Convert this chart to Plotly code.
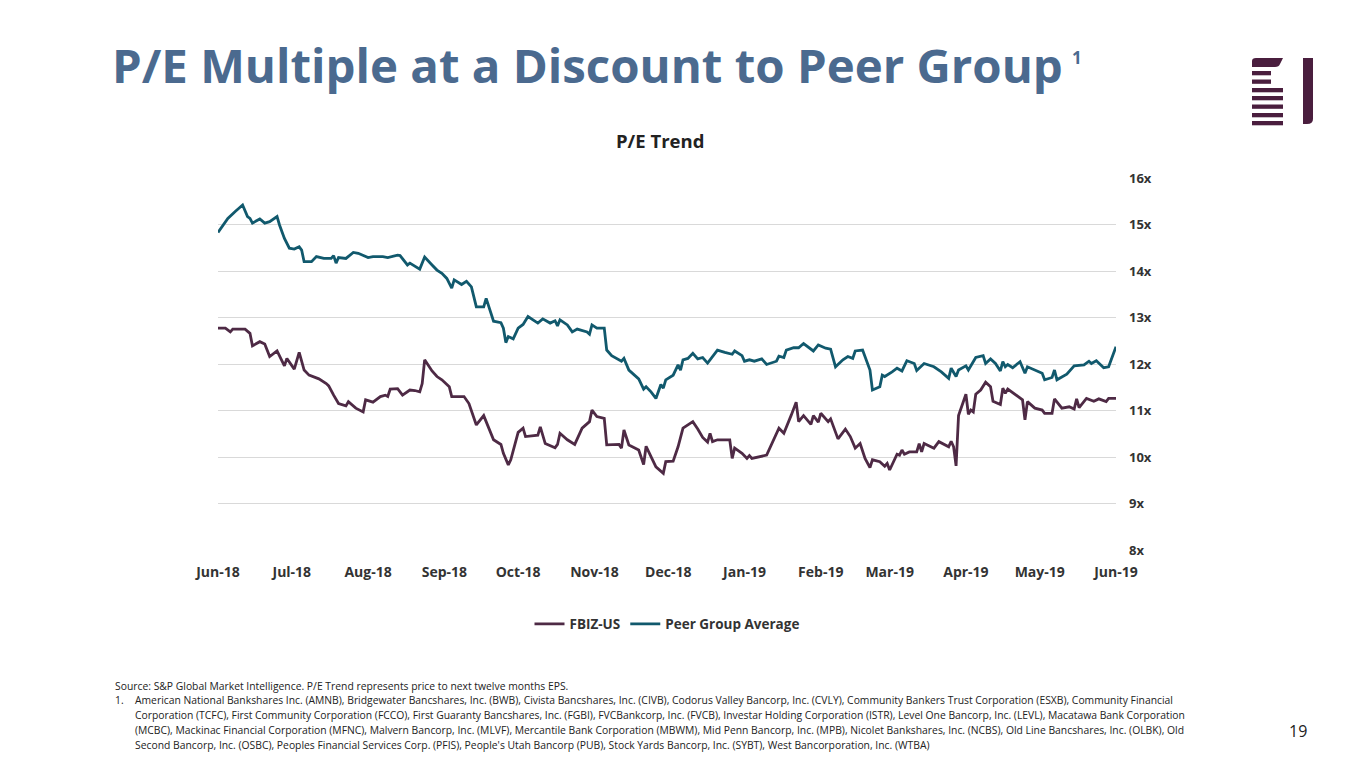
import plotly.graph_objects as go

# ---------------- data ----------------
peer_dates = [
 "2018-06-01","2018-06-05","2018-06-08","2018-06-11","2018-06-13","2018-06-14","2018-06-15","2018-06-18","2018-06-20","2018-06-22",
 "2018-06-25","2018-06-26","2018-06-28","2018-06-30","2018-07-02","2018-07-04","2018-07-05","2018-07-06","2018-07-09","2018-07-11",
 "2018-07-14","2018-07-17","2018-07-18","2018-07-19","2018-07-20","2018-07-23","2018-07-26","2018-07-28","2018-08-01","2018-08-03",
 "2018-08-07","2018-08-09","2018-08-13","2018-08-14","2018-08-17","2018-08-18","2018-08-22","2018-08-24","2018-08-27","2018-08-29",
 "2018-08-31","2018-09-02","2018-09-04","2018-09-05","2018-09-08","2018-09-10","2018-09-12","2018-09-14","2018-09-17","2018-09-18",
 "2018-09-21","2018-09-24","2018-09-25","2018-09-26","2018-09-27","2018-09-29","2018-10-01","2018-10-03","2018-10-05","2018-10-09",
 "2018-10-11","2018-10-14","2018-10-16","2018-10-17","2018-10-18","2018-10-21","2018-10-23","2018-10-25","2018-10-29","2018-10-30",
 "2018-10-31","2018-11-02","2018-11-05","2018-11-06","2018-11-08","2018-11-12","2018-11-13","2018-11-15","2018-11-19","2018-11-21",
 "2018-11-22","2018-11-24","2018-11-26","2018-11-28","2018-11-29","2018-11-30","2018-12-03","2018-12-05","2018-12-06","2018-12-07",
 "2018-12-09","2018-12-11","2018-12-13","2018-12-15","2018-12-17","2018-12-21","2018-12-24","2018-12-27","2018-12-28","2018-12-31",
 "2019-01-01","2019-01-03","2019-01-05","2019-01-08","2019-01-10","2019-01-14","2019-01-15","2019-01-17","2019-01-18","2019-01-21",
 "2019-01-23","2019-01-25","2019-01-29","2019-01-31","2019-02-03","2019-02-05","2019-02-07","2019-02-10","2019-02-12","2019-02-14",
 "2019-02-15","2019-02-18","2019-02-21","2019-02-22","2019-02-25","2019-02-26","2019-02-27","2019-02-28","2019-03-02","2019-03-04",
 "2019-03-06","2019-03-08","2019-03-11","2019-03-12","2019-03-15","2019-03-19","2019-03-22","2019-03-25","2019-03-26","2019-03-28",
 "2019-03-29","2019-04-01","2019-04-02","2019-04-05","2019-04-08","2019-04-09","2019-04-11","2019-04-13","2019-04-15","2019-04-16",
 "2019-04-17","2019-04-18","2019-04-20","2019-04-23","2019-04-25","2019-04-26","2019-04-29","2019-05-02","2019-05-03","2019-05-06",
 "2019-05-07","2019-05-08","2019-05-12","2019-05-15","2019-05-19","2019-05-21","2019-05-22","2019-05-24","2019-05-27","2019-05-29",
 "2019-06-01"]
peer_pe = [
 14.83,15.13,15.28,15.42,15.17,15.13,15.03,15.12,15.03,15.06,
 15.17,14.99,14.70,14.49,14.47,14.52,14.45,14.20,14.20,14.31,
 14.27,14.27,14.33,14.17,14.29,14.27,14.40,14.38,14.29,14.31,
 14.31,14.29,14.34,14.33,14.13,14.17,14.04,14.30,14.13,14.02,
 13.95,13.84,13.63,13.81,13.71,13.78,13.66,13.23,13.23,13.41,
 12.92,12.89,12.77,12.46,12.59,12.54,12.77,12.85,13.02,12.88,
 12.97,12.88,12.93,12.82,12.95,12.84,12.69,12.75,12.69,12.64,
 12.84,12.77,12.77,12.30,12.18,12.06,12.12,11.87,11.68,11.46,
 11.51,11.40,11.26,11.56,11.48,11.66,11.76,11.98,11.87,12.09,
 12.12,12.23,12.11,12.14,12.02,12.30,12.25,12.21,12.28,12.18,
 12.06,12.09,12.06,12.11,11.99,12.06,12.17,12.14,12.30,12.35,
 12.35,12.44,12.28,12.41,12.34,12.32,11.94,12.09,12.16,12.12,
 12.28,12.30,11.87,11.44,11.51,11.76,11.73,11.76,11.83,11.91,
 11.85,12.07,12.01,11.86,12.01,11.94,11.83,11.69,11.91,11.73,
 11.87,11.96,11.87,12.14,12.18,12.01,12.11,12.01,11.85,12.05,
 11.94,11.99,11.92,12.05,11.80,11.94,11.87,11.80,11.66,11.71,
 11.87,11.66,11.78,11.96,11.98,12.06,12.01,12.07,11.92,11.94,
 12.37]

fbiz_dates = [
 "2018-06-01","2018-06-04","2018-06-06","2018-06-07","2018-06-12","2018-06-14","2018-06-15","2018-06-18","2018-06-20","2018-06-22",
 "2018-06-25","2018-06-28","2018-06-29","2018-07-02","2018-07-04","2018-07-06","2018-07-08","2018-07-12","2018-07-15","2018-07-16",
 "2018-07-18","2018-07-20","2018-07-23","2018-07-24","2018-07-27","2018-07-30","2018-07-31","2018-08-03","2018-08-06","2018-08-08",
 "2018-08-09","2018-08-10","2018-08-13","2018-08-15","2018-08-18","2018-08-20","2018-08-22","2018-08-23","2018-08-24","2018-08-27",
 "2018-08-29","2018-08-31","2018-09-03","2018-09-04","2018-09-09","2018-09-11","2018-09-14","2018-09-17","2018-09-21","2018-09-24",
 "2018-09-25","2018-09-27","2018-09-28","2018-10-01","2018-10-03","2018-10-04","2018-10-09","2018-10-10","2018-10-12","2018-10-16",
 "2018-10-17","2018-10-18","2018-10-21","2018-10-24","2018-10-27","2018-10-30","2018-10-31","2018-11-02","2018-11-05","2018-11-06",
 "2018-11-11","2018-11-12","2018-11-13","2018-11-15","2018-11-19","2018-11-21","2018-11-22","2018-11-24","2018-11-26","2018-11-29",
 "2018-11-30","2018-12-03","2018-12-05","2018-12-07","2018-12-09","2018-12-11","2018-12-13","2018-12-15","2018-12-17","2018-12-18",
 "2018-12-19","2018-12-21","2018-12-26","2018-12-27","2018-12-28","2018-12-31","2019-01-02","2019-01-03","2019-01-04","2019-01-10",
 "2019-01-15","2019-01-17","2019-01-20","2019-01-22","2019-01-23","2019-01-25","2019-01-28","2019-01-29","2019-01-31","2019-02-01",
 "2019-02-04","2019-02-05","2019-02-08","2019-02-11","2019-02-13","2019-02-15","2019-02-17","2019-02-19","2019-02-21","2019-02-22",
 "2019-02-25","2019-02-27","2019-02-28","2019-03-01","2019-03-04","2019-03-05","2019-03-06","2019-03-07","2019-03-09","2019-03-12",
 "2019-03-13","2019-03-14","2019-03-15","2019-03-19","2019-03-21","2019-03-25","2019-03-26","2019-03-27","2019-03-28","2019-03-29",
 "2019-04-01","2019-04-02","2019-04-03","2019-04-04","2019-04-05","2019-04-07","2019-04-09","2019-04-11","2019-04-12","2019-04-15",
 "2019-04-16","2019-04-17","2019-04-18","2019-04-21","2019-04-24","2019-04-25","2019-04-26","2019-04-29","2019-05-02","2019-05-03",
 "2019-05-06","2019-05-07","2019-05-10","2019-05-13","2019-05-15","2019-05-16","2019-05-17","2019-05-20","2019-05-23","2019-05-25",
 "2019-05-28","2019-05-29","2019-06-01"]
fbiz_pe = [
 12.77,12.77,12.69,12.75,12.75,12.66,12.39,12.48,12.43,12.16,
 12.28,11.96,12.12,11.89,12.25,11.87,11.76,11.68,11.58,11.53,
 11.33,11.15,11.10,11.19,11.05,10.97,11.23,11.18,11.30,11.33,
 11.30,11.46,11.47,11.33,11.44,11.43,11.40,11.58,12.09,11.85,
 11.73,11.66,11.51,11.30,11.30,11.15,10.69,10.89,10.37,10.27,
 10.08,9.83,9.94,10.53,10.62,10.44,10.47,10.65,10.29,10.20,
 10.27,10.51,10.37,10.27,10.62,10.76,11.01,10.87,10.83,10.26,
 10.27,10.19,10.58,10.26,10.15,9.84,10.23,10.01,9.79,9.65,
 9.90,9.91,10.22,10.62,10.70,10.76,10.60,10.42,10.32,10.51,
 10.33,10.37,10.37,9.97,10.19,10.08,9.97,10.03,9.97,10.04,
 10.62,10.51,10.90,11.18,10.76,10.89,10.70,10.89,10.75,10.94,
 10.76,10.82,10.39,10.60,10.44,10.19,10.29,9.97,9.77,9.94,
 9.90,9.80,9.86,9.72,10.06,10.04,10.15,10.06,10.11,10.11,
 10.29,10.11,10.29,10.19,10.33,10.22,10.34,10.22,9.81,10.89,
 11.35,10.92,11.01,10.97,11.35,11.44,11.61,11.51,11.20,11.13,
 11.48,11.37,11.46,11.35,11.23,10.80,11.19,11.05,11.01,10.94,
 10.94,11.25,11.05,11.08,11.03,11.25,11.06,11.26,11.20,11.25,
 11.19,11.26,11.26]

tick_dates = ["2018-06-01","2018-07-01","2018-08-01","2018-09-01","2018-10-01","2018-11-01","2018-12-01",
              "2019-01-01","2019-02-01","2019-03-01","2019-04-01","2019-05-01","2019-06-01"]
tick_labels = ["Jun-18","Jul-18","Aug-18","Sep-18","Oct-18","Nov-18","Dec-18",
               "Jan-19","Feb-19","Mar-19","Apr-19","May-19","Jun-19"]
y_ticks = [8, 9, 10, 11, 12, 13, 14, 15, 16]
y_labels = ["8x", "9x", "10x", "11x", "12x", "13x", "14x", "15x", "16x"]

series_names = ["FBIZ-US", "Peer Group Average"]

# ---------------- layout helpers ----------------
W, H = 1365, 768
OFF = 8                      # page body margin of the html page
L, R, T, B = 218, 1116, 178, 550   # plot area, in screen pixels
def px(x):
    return (x - L) / (R - L)
def py(y):
    return (B - y) / (B - T)

FBIZ_COL = "#4E2A45"
PEER_COL = "#11596D"
TITLE_COL = "#4B6A8F"
LOGO_COL = "#4A1E3E"

fig = go.Figure()
fig.add_trace(go.Scatter(x=fbiz_dates, y=fbiz_pe, mode="lines", name=series_names[0],
                         line=dict(color=FBIZ_COL, width=2.8)))
fig.add_trace(go.Scatter(x=peer_dates, y=peer_pe, mode="lines", name=series_names[1],
                         line=dict(color=PEER_COL, width=2.8)))

fig.update_layout(
    width=W, height=H, autosize=False,
    margin=dict(l=L - OFF, r=W - R + OFF, t=T - OFF, b=H - B + OFF, pad=0),
    paper_bgcolor="white", plot_bgcolor="white",
    font=dict(family="Open Sans", color="#222222"),
    showlegend=True,
    legend=dict(orientation="h", x=0.5, xanchor="center", y=py(624), yanchor="middle",
                font=dict(family="Open Sans", size=13.5, color="#333333", weight="bold"),
                itemwidth=30, tracegroupgap=0),
    xaxis=dict(type="date", range=["2018-06-01", "2019-06-01"], tickvals=tick_dates,
               ticktext=tick_labels, showgrid=False, zeroline=False, showline=False,
               ticks="", ticklabelstandoff=12,
               tickfont=dict(family="Open Sans", size=14, color="#333333", weight="bold")),
    yaxis=dict(range=[8, 16], tickvals=y_ticks, ticktext=y_labels, side="right",
               showgrid=True, gridcolor="#D9D9D9", gridwidth=1.2, zeroline=False,
               showline=False, ticks="", ticklabelstandoff=12,
               tickfont=dict(family="Open Sans", size=13, color="#333333", weight="bold")),
)

ann = []
ann.append(dict(text="P/E Multiple at a Discount to Peer Group", x=px(110), y=py(64),
                xref="paper", yref="paper", xanchor="left", yanchor="middle", showarrow=False,
                font=dict(family="Open Sans", size=47.4, color=TITLE_COL, weight="bold")))
ann.append(dict(text="1", x=px(1077), y=py(57), xref="paper", yref="paper",
                xanchor="center", yanchor="middle", showarrow=False,
                font=dict(family="Open Sans", size=17, color=TITLE_COL, weight="bold")))
ann.append(dict(text="P/E Trend", x=px(660), y=py(140), xref="paper", yref="paper",
                xanchor="center", yanchor="middle", showarrow=False,
                font=dict(family="Open Sans", size=18.5, color="#222222", weight="bold")))

foot_font = dict(family="Open Sans", size=10.35, color="#222222")
ann.append(dict(text="Source: S&P Global Market Intelligence. P/E Trend represents price to next twelve months EPS.",
                x=px(113), y=py(686), xref="paper", yref="paper", xanchor="left", yanchor="middle",
                showarrow=False, font=foot_font))
ann.append(dict(text="1.", x=px(113), y=py(700), xref="paper", yref="paper", xanchor="left",
                yanchor="middle", showarrow=False, font=foot_font))
foot_lines = [
 "American National Bankshares Inc. (AMNB), Bridgewater Bancshares, Inc. (BWB), Civista Bancshares, Inc. (CIVB), Codorus Valley Bancorp, Inc. (CVLY), Community Bankers Trust Corporation (ESXB), Community Financial",
 "Corporation (TCFC), First Community Corporation (FCCO), First Guaranty Bancshares, Inc. (FGBI), FVCBankcorp, Inc. (FVCB), Investar Holding Corporation (ISTR), Level One Bancorp, Inc. (LEVL), Macatawa Bank Corporation",
 "(MCBC), Mackinac Financial Corporation (MFNC), Malvern Bancorp, Inc. (MLVF), Mercantile Bank Corporation (MBWM), Mid Penn Bancorp, Inc. (MPB), Nicolet Bankshares, Inc. (NCBS), Old Line Bancshares, Inc. (OLBK), Old",
 "Second Bancorp, Inc. (OSBC), Peoples Financial Services Corp. (PFIS), People's Utah Bancorp (PUB), Stock Yards Bancorp, Inc. (SYBT), West Bancorporation, Inc. (WTBA)",
]
for i, t in enumerate(foot_lines):
    ann.append(dict(text=t, x=px(133), y=py(700 + 15 * i), xref="paper", yref="paper",
                    xanchor="left", yanchor="middle", showarrow=False, font=foot_font))
ann.append(dict(text="19", x=px(1298), y=py(731), xref="paper", yref="paper", xanchor="center",
                yanchor="middle", showarrow=False,
                font=dict(family="Open Sans", size=16, color="#222222")))
fig.update_layout(annotations=ann)

# logo
shapes = []
shapes.append(dict(type="path", xref="paper", yref="paper",
                   path=f"M {px(1252)},{py(67)} L {px(1252)},{py(61)} Q {px(1252)},{py(58)} {px(1256)},{py(58)} "
                        f"L {px(1283)},{py(58)} L {px(1280)},{py(64)} Q {px(1279)},{py(67)} {px(1275)},{py(67)} Z",
                   fillcolor=LOGO_COL, line=dict(width=0)))
bars = [(71, 1271), (79.5, 1271), (88, 1283), (96, 1283), (104.5, 1283), (113, 1283), (121, 1283)]
for y0, x1 in bars:
    shapes.append(dict(type="rect", xref="paper", yref="paper", x0=px(1252), x1=px(x1),
                       y0=py(y0), y1=py(y0 + 4.3), fillcolor=LOGO_COL, line=dict(width=0)))
shapes.append(dict(type="path", xref="paper", yref="paper",
                   path=f"M {px(1303)},{py(58)} L {px(1313)},{py(58)} L {px(1313)},{py(119)} "
                        f"Q {px(1313)},{py(124)} {px(1307)},{py(124)} L {px(1303)},{py(124)} Z",
                   fillcolor=LOGO_COL, line=dict(width=0)))
fig.update_layout(shapes=shapes)

fig.write_html("out.html")
